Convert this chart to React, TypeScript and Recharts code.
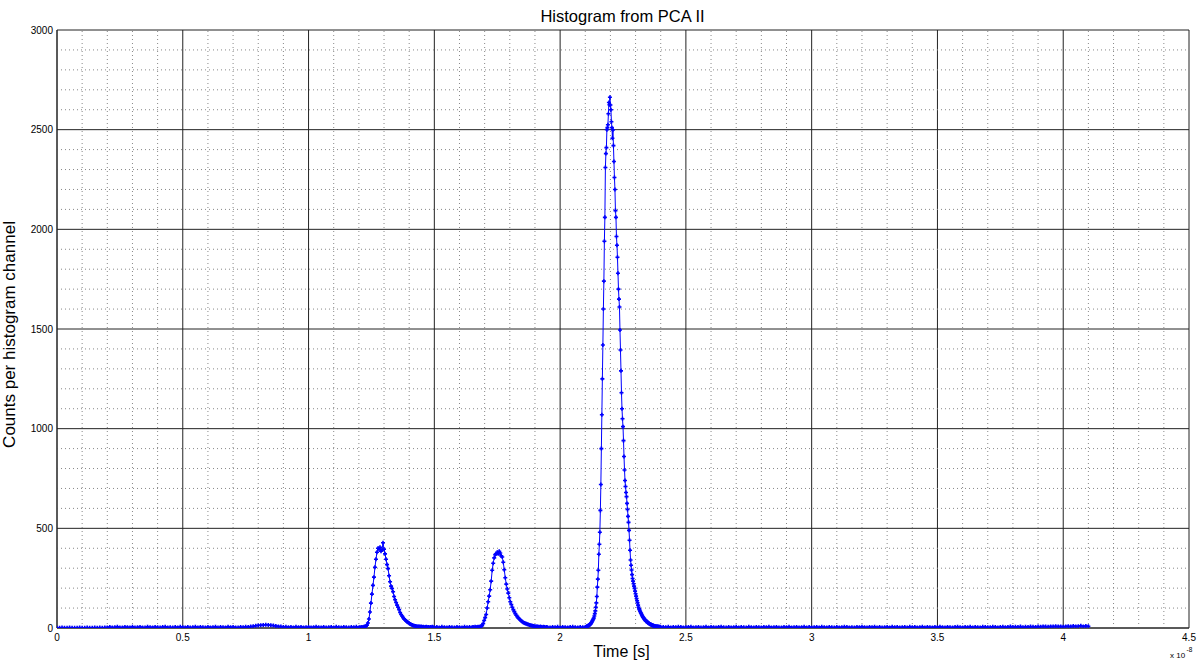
import React from "react";
import { LineChart, Line, XAxis, YAxis, CartesianGrid, ReferenceLine } from "recharts";

// Time axis in units of 1e-8 s; counts per histogram channel.
const xTicks = [0, 0.5, 1, 1.5, 2, 2.5, 3, 3.5, 4, 4.5];
const yTicks = [0, 500, 1000, 1500, 2000, 2500, 3000];
const minorXTicks = [0.1, 0.2, 0.3, 0.4, 0.6, 0.7, 0.8, 0.9, 1.1, 1.2, 1.3, 1.4, 1.6, 1.7, 1.8, 1.9, 2.1, 2.2, 2.3, 2.4, 2.6, 2.7, 2.8, 2.9, 3.1, 3.2, 3.3, 3.4, 3.6, 3.7, 3.8, 3.9, 4.1, 4.2, 4.3, 4.4];
const minorYTicks = [100, 200, 300, 400, 600, 700, 800, 900, 1100, 1200, 1300, 1400, 1600, 1700, 1800, 1900, 2100, 2200, 2300, 2400, 2600, 2700, 2800, 2900];

// baseline 0.00 .. 1.19, step 0.01
const baseCounts1 = [
  1, 1, 2, 1, 1, 2, 1, 1, 1, 2, 1, 1, 2, 1, 1, 2, 1, 2, 1, 2,
  3, 5, 2, 4, 6, 3, 2, 5, 4, 3, 6, 2, 4, 5, 3, 2, 6, 4, 3, 5,
  4, 2, 5, 6, 3, 4, 2, 5, 3, 6, 4, 3, 5, 2, 4, 6, 3, 5, 4, 2,
  5, 3, 4, 6, 2, 5, 4, 3, 6, 4, 5, 3, 2, 5, 4, 6, 5, 7, 9, 11,
  13, 14, 15, 16, 15, 14, 12, 10, 8, 7, 5, 6, 4, 5, 3, 6, 4, 5, 3, 4,
  5, 3, 4, 6, 4, 3, 5, 2, 4, 5, 3, 6, 4, 3, 5, 4, 2, 5, 4, 6,
];
// first peak 1.200 .. 1.496, step 0.004
const peak1Counts = [
  3, 4, 3, 5, 4, 6, 7, 9, 14, 25, 45, 80, 125, 170, 214, 255, 305, 345, 380, 400,
  395, 405, 385, 392, 428, 395, 372, 345, 318, 298, 262, 232, 210, 198, 182, 158, 142, 128, 115, 104,
  92, 78, 68, 60, 52, 46, 40, 35, 31, 27, 24, 20, 17, 15, 13, 11, 10, 9, 8, 8,
  7, 6, 7, 5, 6, 4, 5, 6, 4, 5, 3, 5, 4, 6, 3,
];
// baseline 1.50 .. 1.64, step 0.01
const baseCounts2 = [4, 5, 3, 6, 4, 3, 5, 4, 2, 5, 4, 3, 6, 4, 5];
// second peak 1.650 .. 1.946, step 0.004
const peak2Counts = [
  4, 5, 3, 6, 4, 5, 6, 5, 7, 9, 12, 22, 38, 52, 68, 100, 132, 160, 192, 235,
  290, 325, 352, 368, 372, 380, 372, 385, 376, 362, 356, 330, 292, 252, 220, 196, 175, 152, 132, 118,
  104, 92, 82, 72, 64, 57, 51, 45, 40, 35, 31, 28, 25, 23, 21, 19, 17, 15, 14, 12,
  11, 10, 9, 8, 7, 8, 6, 5, 7, 5, 4, 6, 5, 3, 5,
];
// baseline 1.95 .. 2.09, step 0.01
const baseCounts3 = [4, 3, 5, 4, 6, 3, 5, 4, 3, 5, 6, 4, 3, 5, 4];
// main peak 2.100 .. 2.400, step 0.002
const peak3Counts = [
  5, 4, 6, 7, 9, 10, 12, 13, 15, 17, 19, 22, 26, 30, 35, 40, 45, 50, 60, 72,
  86, 104, 126, 158, 205, 245, 290, 370, 420, 480, 590, 720, 900, 1070, 1250, 1420, 1600, 1740, 1940, 2060,
  2310, 2380, 2410, 2500, 2510, 2525, 2580, 2636, 2625, 2663, 2624, 2600, 2540, 2510, 2457, 2499, 2420, 2340, 2260, 2200,
  2094, 2060, 1964, 1920, 1860, 1780, 1700, 1650, 1610, 1495, 1395, 1290, 1180, 1100, 1050, 1010, 940, 860, 793, 740,
  710, 680, 659, 625, 595, 560, 530, 490, 440, 390, 341, 315, 291, 268, 248, 235, 222, 210, 199, 185,
  172, 160, 148, 137, 127, 115, 104, 96, 90, 84, 78, 74, 68, 63, 58, 54, 50, 47, 43, 40,
  37, 34, 33, 31, 28, 26, 24, 22, 20, 19, 18, 17, 15, 14, 13, 12, 11, 10, 10, 9,
  8, 8, 7, 7, 6, 7, 5, 6, 4, 6, 5,
];
// baseline 2.41 .. 4.10, step 0.01
const baseCounts4 = [
  5, 4, 6, 3, 5, 4, 6, 5, 3, 4,
  5, 6, 3, 4, 5, 2, 4, 6, 3, 5,
  4, 3, 5, 6, 4, 2, 5, 3, 4, 6,
  3, 5, 4, 2, 6, 4, 3, 5, 4, 3,
  5, 4, 6, 3, 4, 5, 3, 2, 5, 4,
  6, 3, 4, 5, 3, 4, 6, 2, 5, 3,
  4, 5, 3, 6, 4, 3, 5, 4, 2, 5,
  3, 4, 6, 5, 3, 4, 2, 5, 4, 6,
  4, 3, 5, 4, 6, 3, 5, 2, 4, 5,
  3, 6, 4, 5, 3, 4, 5, 2, 6, 4,
  5, 3, 4, 6, 3, 5, 4, 3, 5, 4,
  6, 4, 3, 5, 4, 2, 5, 6, 4, 3,
  5, 4, 6, 3, 5, 4, 3, 6, 5, 4,
  4, 6, 5, 3, 5, 6, 4, 5, 7, 5,
  6, 5, 7, 4, 6, 5, 7, 6, 5, 7,
  6, 8, 7, 6, 8, 7, 9, 7, 8, 6,
  8, 9, 7, 10, 8, 9, 11, 8, 10, 9,
];

const segments = [
  { start: 0, step: 0.01, counts: baseCounts1 },
  { start: 1.2, step: 0.004, counts: peak1Counts },
  { start: 1.5, step: 0.01, counts: baseCounts2 },
  { start: 1.65, step: 0.004, counts: peak2Counts },
  { start: 1.95, step: 0.01, counts: baseCounts3 },
  { start: 2.1, step: 0.002, counts: peak3Counts },
  { start: 2.41, step: 0.01, counts: baseCounts4 },
];

const data = segments.flatMap((s) =>
  s.counts.map((c, i) => ({ t: +(s.start + i * s.step).toFixed(4), c }))
);

const BLUE = "#0000ff";
const FONT = "'Liberation Sans', Arial, Helvetica, sans-serif";

const PlusDot = (props: any) => {
  const { cx, cy, index } = props;
  if (cx == null || cy == null) return <g key={`d${index}`} />;
  return (
    <path
      key={`d${index}`}
      d={`M${cx - 2},${cy}h4M${cx},${cy - 2}v4`}
      stroke={BLUE}
      strokeWidth={1.6}
      fill="none"
    />
  );
};

export default function App() {
  return (
    <div style={{ position: "absolute", left: 0, top: 0, width: 1200, height: 662, background: "#fff" }}>
      <LineChart
        width={1200}
        height={662}
        data={data}
        margin={{ top: 30, right: 11, bottom: 0, left: 0 }}
      >
        {minorXTicks.map((v) => (
          <ReferenceLine key={`mx${v}`} x={v} stroke="#888" strokeDasharray="1 3" strokeWidth={1} />
        ))}
        {minorYTicks.map((v) => (
          <ReferenceLine key={`my${v}`} y={v} stroke="#888" strokeDasharray="1 3" strokeWidth={1} />
        ))}
        <CartesianGrid stroke="#222" strokeWidth={1} />
        <XAxis
          dataKey="t"
          type="number"
          domain={[0, 4.5]}
          ticks={xTicks}
          height={34}
          tickSize={0}
          tickMargin={6}
          axisLine={{ stroke: "#222" }}
          tick={{ fill: "#000", fontSize: 10, fontFamily: FONT }}
          allowDataOverflow
        />
        <YAxis
          type="number"
          domain={[0, 3000]}
          ticks={yTicks}
          width={57}
          tickSize={0}
          tickMargin={4}
          axisLine={{ stroke: "#222" }}
          tick={{ fill: "#000", fontSize: 10, fontFamily: FONT }}
          allowDataOverflow
        />
        <Line
          dataKey="c"
          type="linear"
          stroke={BLUE}
          strokeWidth={1}
          dot={PlusDot}
          activeDot={false}
          isAnimationActive={false}
        />
      </LineChart>
      <svg
        width={1200}
        height={662}
        style={{ position: "absolute", left: 0, top: 0, pointerEvents: "none" }}
      >
        <text x={622.5} y={21.7} textAnchor="middle" fontSize={16.5} fontFamily={FONT} fill="#000">
          Histogram from PCA II
        </text>
        <text
          x={0}
          y={0}
          transform="translate(15,334.5) rotate(-90)"
          textAnchor="middle"
          fontSize={17}
          fontFamily={FONT}
          fill="#000"
        >
          Counts per histogram channel
        </text>
        <text x={621.5} y={657} textAnchor="middle" fontSize={16} fontFamily={FONT} fill="#000">
          Time [s]
        </text>
        <text x={1170} y={658} fontSize={8} fontFamily={FONT} fill="#000">
          x 10
        </text>
        <text x={1186.5} y={652} fontSize={6.5} fontFamily={FONT} fill="#000">
          -8
        </text>
      </svg>
    </div>
  );
}
